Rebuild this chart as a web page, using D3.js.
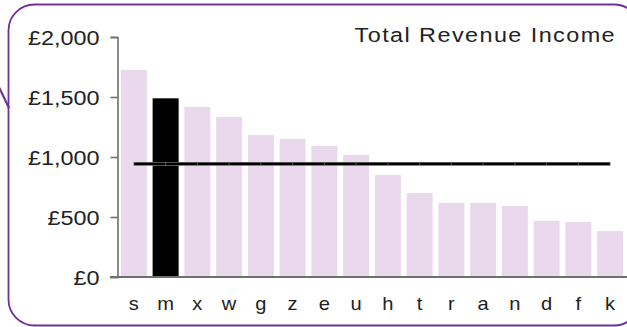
<!DOCTYPE html>
<html>
<head>
<meta charset="utf-8">
<script src="https://cdn.jsdelivr.net/npm/d3@7"></script>
<style>
  html, body { margin: 0; padding: 0; background: #fff; }
  svg { display: block; }
  text { font-family: "Liberation Sans", Arial, sans-serif; fill: #222; }
</style>
</head>
<body>
<svg id="chart" width="627" height="327"></svg>
<script>
// Revenue per unit, sorted high to low
const categories = ["s", "m", "x", "w", "g", "z", "e", "u", "h", "t", "r", "a", "n", "d", "f", "k"];
const revenue = [1725, 1489, 1417, 1333, 1183, 1150, 1092, 1017, 850, 700, 617, 617, 592, 467, 458, 383];
const highlighted = "m";
const averageRevenue = 943;
const yTicks = [0, 500, 1000, 1500, 2000];
const title = "Total Revenue Income";

const svg = d3.select("#chart");

const x = d3.scaleBand()
  .domain(categories)
  .range([118, 626])
  .paddingInner(0.18)
  .paddingOuter(0.09);

const y = d3.scaleLinear()
  .domain([0, 2000])
  .range([277, 37]);

const purple = "#7030a0";

// frame
svg.append("rect")
  .attr("x", 8.5).attr("y", 4.5)
  .attr("width", 631.5).attr("height", 321)
  .attr("rx", 26).attr("ry", 26)
  .attr("fill", "none")
  .attr("stroke", purple)
  .attr("stroke-width", 1.8);

// connector stub on the left
svg.append("line")
  .attr("x1", -3).attr("y1", 83)
  .attr("x2", 9).attr("y2", 108)
  .attr("stroke", purple)
  .attr("stroke-width", 2.2);

// bars
svg.append("g").selectAll("rect")
  .data(categories.map((c, i) => ({ c, v: revenue[i] })))
  .join("rect")
  .attr("x", d => x(d.c))
  .attr("y", d => y(d.v))
  .attr("width", x.bandwidth())
  .attr("height", d => y(0) - y(d.v))
  .attr("fill", d => d.c === highlighted ? "#000" : "#ead9ec");

// y axis
const yAxis = d3.axisLeft(y)
  .tickValues(yTicks)
  .tickSize(7)
  .tickPadding(11)
  .tickFormat(d => "£" + d3.format(",")(d));

const gy = svg.append("g")
  .attr("transform", "translate(117.5,0)")
  .call(yAxis);
gy.select(".domain").attr("stroke", "#6f6f6f").attr("stroke-width", 1.6);
gy.selectAll(".tick line").attr("stroke", "#6f6f6f").attr("stroke-width", 1.6);
gy.selectAll(".tick text")
  .attr("font-size", 19.5)
  .attr("fill", "#222")
  .attr("dy", "0.36em")
  .each(function () {
    const t = d3.select(this);
    const tx = +t.attr("x");
    t.attr("x", 0).attr("transform", `translate(${tx},0) scale(1.2,1)`);
  });

// baseline / x axis
const xAxis = d3.axisBottom(x).tickSize(0).tickPadding(0);
const gx = svg.append("g")
  .attr("transform", `translate(0,${y(0)})`)
  .call(xAxis);
gx.select(".domain").remove();
gx.append("line")
  .attr("x1", 110).attr("x2", 627)
  .attr("stroke", "#6f6f6f").attr("stroke-width", 2);
gx.selectAll(".tick text")
  .attr("font-size", 17.5)
  .attr("fill", "#222")
  .attr("y", 0)
  .attr("dy", 0)
  .attr("transform", "translate(0,32.5) scale(1.15,1)");

// average line across the category centres
const avgPoints = categories.map(c => [x(c) + x.bandwidth() / 2, y(averageRevenue)]);
const line = d3.line();
svg.append("path")
  .attr("d", line(avgPoints))
  .attr("fill", "none")
  .attr("stroke", "#a0a0a0")
  .attr("stroke-width", 3.8);
svg.append("path")
  .attr("d", line(avgPoints))
  .attr("fill", "none")
  .attr("stroke", "#000")
  .attr("stroke-width", 2.6);
svg.append("g").selectAll("line")
  .data(avgPoints)
  .join("line")
  .attr("x1", d => d[0]).attr("x2", d => d[0])
  .attr("y1", d => d[1] - 2.2).attr("y2", d => d[1] + 2.2)
  .attr("stroke", "#888")
  .attr("stroke-width", 0.6);

// title
svg.append("text")
  .attr("text-anchor", "end")
  .attr("font-size", 19.5)
  .attr("letter-spacing", 1.2)
  .attr("fill", "#222")
  .attr("transform", "translate(616,41.7) scale(1.2,1)")
  .text(title);
</script>
</body>
</html>
